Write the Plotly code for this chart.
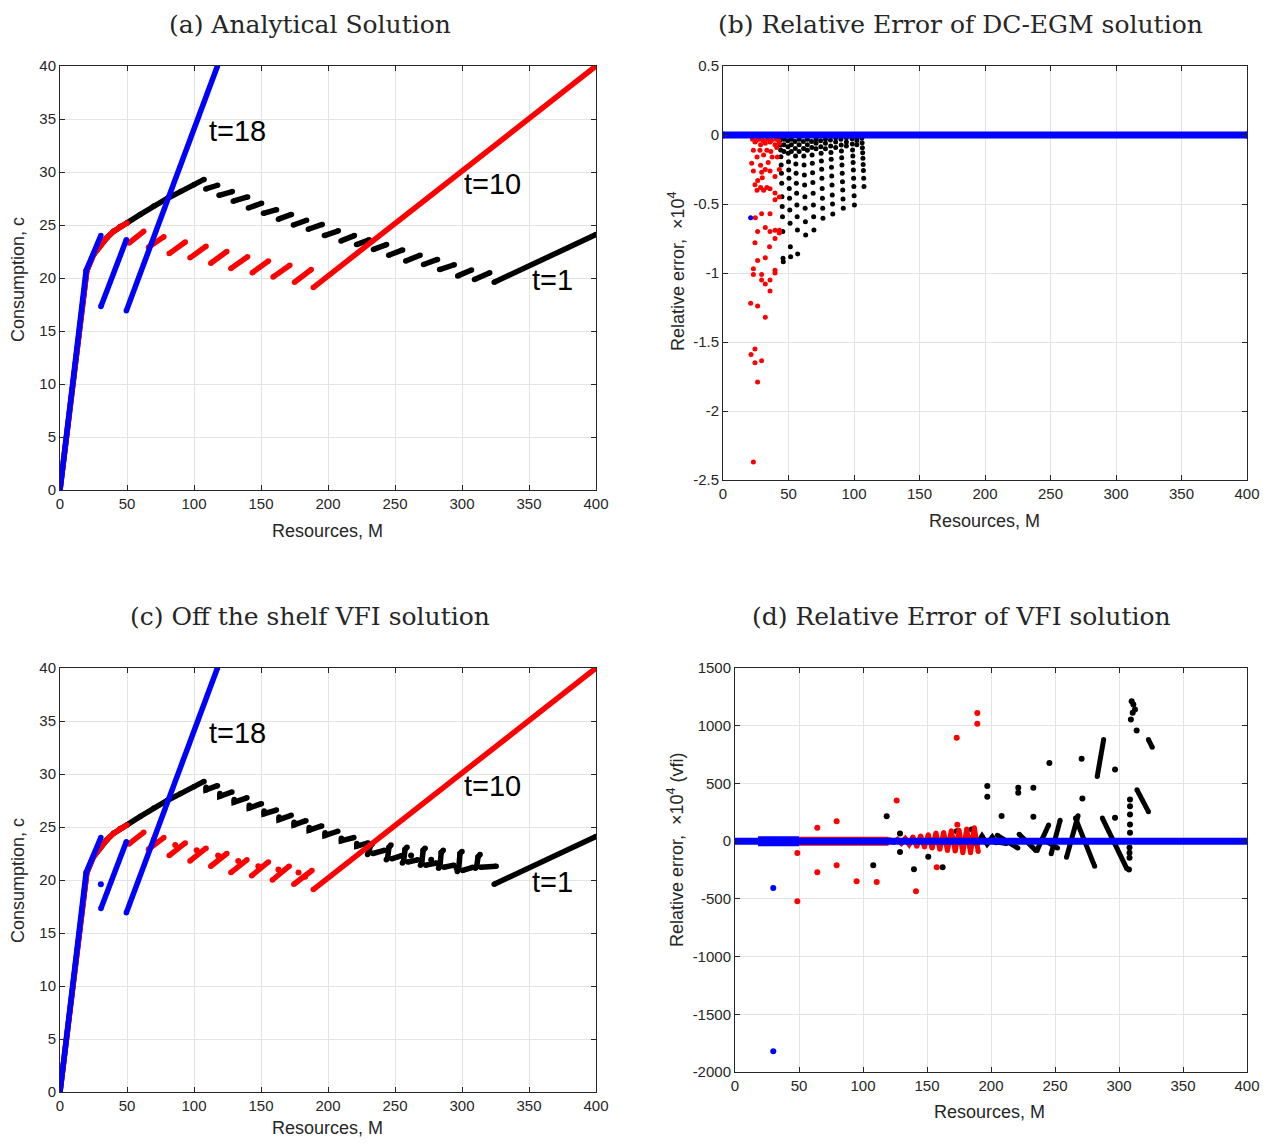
import plotly.graph_objects as go

# page body has an 8px margin: size the figure so the page does not overflow
FW, FH = 1261, 1132
OFF = 8

# ---------------- Panel (a) / (c) data : consumption functions ----------------
ramp_x = [0, 20]
ramp_y = [0, 20.7]
t1_curve_x = [20, 25, 30, 35, 40, 45, 50, 60, 70, 80, 90, 100, 107.5]
t1_curve_y = [20.7, 22.2, 23.1, 23.8, 24.4, 24.85, 25.2, 26.0, 26.8, 27.5, 28.15, 28.8, 29.3]
t10_curve_x = [20, 25, 30, 35, 40, 45, 50]
t10_curve_y = [20.7, 22.2, 23.1, 23.8, 24.4, 24.85, 25.2]

a_black_x0 = [108.8, 118.7, 129.3, 140.6, 151.8, 163.0, 174.2, 185.3, 197.3, 209.7, 221.3, 233.9, 245.3, 258.0, 271.3, 283.3, 296.8, 309.3]
a_black_x1 = [117.6, 128.6, 140.0, 150.4, 161.6, 172.7, 184.0, 195.7, 207.7, 219.7, 230.7, 243.7, 255.7, 268.7, 281.7, 294.2, 307.1, 320.7]
a_black_y0 = [28.40, 27.80, 27.25, 26.60, 26.10, 25.55, 25.00, 24.60, 24.00, 23.50, 23.15, 22.70, 22.15, 21.60, 21.27, 20.80, 20.20, 19.85]
a_black_y1 = [28.75, 28.15, 27.65, 27.05, 26.45, 26.00, 25.45, 25.05, 24.45, 24.00, 23.60, 23.15, 22.65, 22.15, 21.75, 21.25, 20.75, 20.50]

a_red_x0 = [51.5, 66.0, 81.5, 97.0, 112.5, 127.5, 143.5, 159.0, 175.0]
a_red_x1 = [62.5, 77.5, 93.5, 109.0, 124.5, 140.0, 155.5, 171.5, 187.5]
a_red_y0 = [23.3, 22.9, 22.3, 21.9, 21.4, 20.9, 20.5, 20.1, 19.6]
a_red_y1 = [24.4, 23.9, 23.4, 23.0, 22.5, 22.0, 21.6, 21.2, 20.8]

t1_line_x = [324, 400]
t1_line_y = [19.6, 24.1]
t10_line_x = [189, 400]
t10_line_y = [19.1, 40]
t18_seg_x = [[0, 19.5, 30.5], [30.5, 49.5], [49.5, 117.5]]
t18_seg_y = [[0, 20.7, 24.0], [17.3, 23.6], [16.9, 40]]

# VFI version (panel c): early dashes carry a small kink at their left end
c_black_x0 = [109.0, 119.3, 130.0, 141.3, 152.3, 163.5, 174.7, 186.0, 197.8, 210.0, 221.5]
c_black_x1 = [117.5, 128.3, 139.5, 150.3, 161.5, 172.5, 183.5, 195.3, 207.3, 219.3, 230.0]
c_black_ytop = [28.75, 28.15, 27.6, 27.05, 26.5, 25.95, 25.45, 24.95, 24.45, 23.95, 23.45]
c_black_y0 = [28.5, 27.9, 27.35, 26.8, 26.25, 25.7, 25.2, 24.7, 24.2, 23.7, 23.2]
c_black_y1 = [28.9, 28.3, 27.75, 27.2, 26.6, 26.1, 25.6, 25.1, 24.6, 24.0, 23.5]
# later pieces: an S-shaped jump followed by a short flat dash
c_black_late_x = [[233, 231.5, 230.5, 229.5], [233.5, 242],
                  [247, 245.5, 244.5, 243.5], [247.5, 255],
                  [259, 257.5, 256.5, 255.5], [259.5, 267],
                  [272.5, 271, 270, 269], [273, 281],
                  [286, 284.5, 283.5, 282.5], [286.5, 294],
                  [300, 298.5, 297.5, 296.5], [300.5, 308],
                  [313.5, 312, 311, 310], [314, 325.5]]
c_black_late_y = [[23.4, 23.2, 22.6, 22.4], [22.5, 22.8],
                  [23.3, 23.1, 22.1, 21.9], [22.0, 22.3],
                  [23.1, 22.9, 21.8, 21.6], [21.7, 21.9],
                  [23.0, 22.8, 21.6, 21.4], [21.4, 21.6],
                  [22.8, 22.6, 21.3, 21.1], [21.2, 21.4],
                  [22.7, 22.5, 21.0, 20.8], [20.9, 21.2],
                  [22.4, 22.2, 21.3, 21.1], [21.2, 21.3]]
c_black_dot_x = [262.0, 277.0, 296.0]
c_black_dot_y = [22.3, 21.9, 21.1]

c_red_x0 = [51.5, 66.0, 81.5, 97.0, 112.5, 127.5, 143.0, 158.5, 174.5]
c_red_x1 = [62.5, 77.5, 93.5, 109.0, 124.5, 139.5, 155.5, 171.0, 188.0]
c_red_y0 = [23.4, 22.9, 22.3, 21.8, 21.3, 20.7, 20.4, 20.0, 19.6]
c_red_y1 = [24.5, 24.0, 23.5, 23.0, 22.5, 21.9, 21.7, 21.3, 20.9]
c_red_dot_x = [70.0, 86.0, 102.0, 118.0, 133.0, 148.0, 163.0, 178.0, 183.0]
c_red_dot_y = [23.8, 23.3, 22.8, 22.3, 21.8, 21.3, 21.0, 20.7, 20.3]
c_blue_dot_x = [30.5]
c_blue_dot_y = [19.6]

# ---------------- Panel (b) data : DC-EGM relative errors (x 1e4) ----------------
egm_blue_line_x = [0, 400]
egm_blue_line_y = [0, 0]
egm_blue_dot_x = [21.1]
egm_blue_dot_y = [-0.60]

egm_red_x = [21.1, 23.2, 21.4, 24.4, 24.4, 26.4, 29.5, 26.4, 32.3, 23.2, 23.2, 24.4, 26.4, 29.5,
             29.5, 32.3, 32.3, 35.9, 35.9, 35.5, 39.7, 39.7, 24.7, 26.4, 29.5, 32.3, 35.9, 35.9,
             39.7, 39.7, 43.0, 43.0, 21.9, 23.2, 24.4, 26.0, 28.7, 31.0, 33.5, 35.9, 39.7, 39.7,
             43.0, 28.7, 29.5, 32.3, 34.5, 35.9, 39.7, 43.0, 23.2, 26.0, 28.2, 31.0, 33.5, 37.5,
             41.5, 24.4, 28.7, 32.3, 35.9, 39.7, 43.0, 22.5, 25.5, 27.5, 30.5, 34.0, 37.0, 40.5,
             42.5, 26.5, 30.0, 36.5, 41.0]
egm_red_y = [-1.22, -2.37, -1.59, -1.55, -1.65, -1.79, -1.635, -1.24, -1.32, -0.97, -1.01, -0.78, -0.91, -1.01,
             -1.05, -1.08, -0.89, -1.05, -1.13, -0.81, -1.00, -0.98, -0.60, -0.70, -0.57, -0.67, -0.70, -0.57,
             -0.69, -0.75, -0.69, -0.71, -0.205, -0.26, -0.36, -0.40, -0.38, -0.40, -0.38, -0.39, -0.42, -0.47,
             -0.45, -0.22, -0.27, -0.25, -0.20, -0.26, -0.30, -0.25, -0.11, -0.16, -0.11, -0.145, -0.11, -0.16,
             -0.16, -0.05, -0.07, -0.06, -0.05, -0.07, -0.06, -0.03, -0.04, -0.03, -0.04, -0.03, -0.04, -0.03,
             -0.04, -0.33, -0.31, -0.12, -0.09]

egm_black_col_x = [43.6, 49.4, 55.0, 61.3, 67.6, 74.5, 82.0, 90.0, 98.5, 106.0]
egm_black_col_y = [
    [-0.036, -0.072, -0.109, -0.157, -0.217, -0.278, -0.350, -0.447, -0.519, -0.592, -0.700, -0.894, -0.918],
    [-0.041, -0.085, -0.133, -0.193, -0.254, -0.314, -0.387, -0.459, -0.543, -0.640, -0.809, -0.882],
    [-0.048, -0.097, -0.152, -0.210, -0.278, -0.350, -0.423, -0.507, -0.592, -0.688, -0.862],
    [-0.048, -0.097, -0.152, -0.217, -0.290, -0.362, -0.447, -0.531, -0.628, -0.725],
    [-0.048, -0.091, -0.145, -0.205, -0.273, -0.345, -0.423, -0.507, -0.592, -0.688],
    [-0.041, -0.085, -0.133, -0.189, -0.249, -0.314, -0.387, -0.459, -0.531, -0.604],
    [-0.036, -0.080, -0.126, -0.176, -0.234, -0.297, -0.362, -0.435, -0.500, -0.573],
    [-0.031, -0.072, -0.116, -0.164, -0.217, -0.278, -0.338, -0.399, -0.464, -0.531],
    [-0.027, -0.065, -0.109, -0.152, -0.200, -0.254, -0.314, -0.374, -0.440, -0.507],
    [-0.022, -0.056, -0.092, -0.128, -0.169, -0.213, -0.258, -0.314, -0.374],
]
# slight rightward drift of each column's dots with depth (read from the fans)
egm_black_col_dx = [0.0, 0.2, 0.4, 0.6, 0.8, 1.0, 1.2, 1.4, 1.6, 1.8, 2.0, 2.2, 2.4]
egm_black_mid_x = [46.5, 52.2, 58.1, 64.4, 71.0, 78.2, 86.0, 94.2, 102.2]
egm_black_mid_y = [
    [-0.03, -0.07, -0.12],
    [-0.03, -0.07, -0.12],
    [-0.03, -0.07, -0.12],
    [-0.03, -0.07, -0.11],
    [-0.03, -0.06, -0.10],
    [-0.03, -0.06, -0.10],
    [-0.02, -0.05, -0.09],
    [-0.02, -0.05, -0.08],
    [-0.02, -0.04, -0.07],
]

# ---------------- Panel (d) data : VFI relative errors (x 1e4) ----------------
vfi_blue_line_x = [0, 400]
vfi_blue_line_y = [0, 0]
vfi_blue_band_x = [18, 50]
vfi_blue_band_y = [0, 0]
vfi_blue_dot_x = [29.9, 29.9]
vfi_blue_dot_y = [-405, -1820]

vfi_red_band_x = [50, 120]
vfi_red_band_y = [0, 0]
vfi_red_dot_x = [48.7, 48.7, 64.3, 64.3, 79.4, 79.4, 95.0, 110.7, 126.3, 141.4, 157.6, 173.2, 173.7, 189.3, 189.3]
vfi_red_dot_y = [-102, -520, 115, -269, 173, -208, -347, -353, 352, -434, -226, 895, 141, 1111, 1016]
vfi_red_wave_x = [115, 118, 121, 124, 127, 130, 133, 136, 139, 142, 145, 148, 151, 154, 157, 160, 163,
                  166, 169, 172, 175, 178, 181, 184, 187, 190]
vfi_red_wave_y = [5, -5, 10, -10, 15, -18, 22, -28, 35, -45, 45, -50, 55, -60, 70, -70, 75, -80, 90,
                  -85, 95, -100, 105, -100, 115, -90]

vfi_black_dot_x = [118.5, 108.0, 128.9, 128.9, 139.8, 151.0, 162.2, 173.2, 184.9, 197.1, 197.1, 208.3,
                   221.3, 221.3, 233.1, 233.1, 245.6, 270.8, 271.4, 296.9, 296.9, 309.3, 313.8, 307.8,
                   308.6, 308.6, 308.6, 308.6, 308.6, 308.2, 308.2, 308.2, 309.9, 311.2, 312.5, 310.7]
vfi_black_dot_y = [216, -208, 66, -93, -243, -136, -226, 86, 101, 477, 384, 217,
                   462, 419, 462, 211, 676, 713, 370, 621, 202, 1054, 959, -245,
                   361, 303, 231, 145, 72, -56, -100, -143, 1213, 1184, 1141, 1112]
vfi_black_strokes_x = [[184, 189, 193, 197, 201, 204], [205, 221], [222, 235], [236, 245], [247, 254],
                       [259, 268], [266, 281], [287, 306], [314, 323], [323, 326], [283, 288],
                       [240, 252], [194, 212]]
vfi_black_strokes_y = [[30, -30, 45, -25, 35, -15], [50, -60], [60, -80], [-80, 140], [-110, 180],
                       [-140, 220], [200, -218], [200, -236], [445, 255], [880, 813], [560, 880],
                       [20, -60], [10, -20]]

# ---------------- helpers ----------------
def segs(x0s, y0s, x1s, y1s):
    xs, ys = [], []
    for a, b, c, d in zip(x0s, y0s, x1s, y1s):
        xs += [a, c, None]
        ys += [b, d, None]
    return xs, ys


def polys(lx, ly):
    xs, ys = [], []
    for px, py in zip(lx, ly):
        xs += list(px) + [None]
        ys += list(py) + [None]
    return xs, ys


def hooks(x0s, ytops, y0s, x1s, y1s):
    xs, ys = [], []
    for a, t, b, c, d in zip(x0s, ytops, y0s, x1s, y1s):
        xs += [a, a, c, None]
        ys += [t, b, d, None]
    return xs, ys


def line(x, y, color, width, ax, caps=True):
    # markers of the line's width at the vertices give round caps/joins like the original
    return go.Scatter(x=x, y=y, mode="lines+markers" if caps else "lines",
                      line=dict(color=color, width=width),
                      marker=dict(color=color, size=width, line=dict(width=0)),
                      xaxis="x" + ax, yaxis="y" + ax, hoverinfo="skip", showlegend=False,
                      connectgaps=False, cliponaxis=True)


def dots(x, y, color, size, ax):
    return go.Scatter(x=x, y=y, mode="markers", marker=dict(color=color, size=size, line=dict(width=0)),
                      xaxis="x" + ax, yaxis="y" + ax, hoverinfo="skip", showlegend=False)


BLACK, RED, BLUE = "#000000", "#ff0000", "#0000ff"
LW = 5.5
traces = []

# ---- panels (a) and (c) ----
bx, by = segs(a_black_x0, a_black_y0, a_black_x1, a_black_y1)
rx, ry = segs(a_red_x0, a_red_y0, a_red_x1, a_red_y1)
cbx, cby = hooks(c_black_x0, c_black_ytop, c_black_y0, c_black_x1, c_black_y1)
clx, cly = polys(c_black_late_x, c_black_late_y)
crx, cry = segs(c_red_x0, c_red_y0, c_red_x1, c_red_y1)
tbx, tby = polys(t18_seg_x, t18_seg_y)

for ax in ["", "3"]:
    traces.append(line(ramp_x + t1_curve_x[1:], ramp_y + t1_curve_y[1:], BLACK, LW, ax))
    traces.append(line(t1_line_x, t1_line_y, BLACK, LW, ax))
    if ax == "":
        traces.append(line(bx, by, BLACK, LW, ax))
    else:
        traces.append(line(cbx + clx, cby + cly, BLACK, LW, ax))
        traces.append(dots(c_black_dot_x, c_black_dot_y, BLACK, 6, ax))
    traces.append(line(ramp_x + t10_curve_x[1:], ramp_y + t10_curve_y[1:], RED, LW, ax))
    traces.append(line(t10_line_x, t10_line_y, RED, LW, ax))
    if ax == "":
        traces.append(line(rx, ry, RED, LW, ax))
    else:
        traces.append(line(crx, cry, RED, LW, ax))
        traces.append(dots(c_red_dot_x, c_red_dot_y, RED, 6, ax))
    traces.append(line(tbx, tby, BLUE, LW, ax))
traces.append(dots(c_blue_dot_x, c_blue_dot_y, BLUE, 6, "3"))

# ---- panel (b) ----
ebx, eby = [], []
for cx, cys in zip(egm_black_col_x, egm_black_col_y):
    ebx += [cx + d for d in egm_black_col_dx[:len(cys)]]
    eby += cys
for cx, cys in zip(egm_black_mid_x, egm_black_mid_y):
    ebx += [cx] * len(cys)
    eby += cys
traces.append(dots(ebx, eby, BLACK, 5, "2"))
traces.append(dots(egm_red_x, egm_red_y, RED, 5, "2"))
traces.append(line(egm_blue_line_x, egm_blue_line_y, BLUE, 7, "2"))
traces.append(dots(egm_blue_dot_x, egm_blue_dot_y, BLUE, 5, "2"))

# ---- panel (d) ----
vsx, vsy = polys(vfi_black_strokes_x, vfi_black_strokes_y)
traces.append(line(vsx, vsy, BLACK, 5, "4"))
traces.append(dots(vfi_black_dot_x, vfi_black_dot_y, BLACK, 6, "4"))
traces.append(line(vfi_red_band_x, vfi_red_band_y, RED, 9, "4", caps=False))
traces.append(line(vfi_red_wave_x, vfi_red_wave_y, RED, 5, "4"))
traces.append(dots(vfi_red_dot_x, vfi_red_dot_y, RED, 6, "4"))
traces.append(line(vfi_blue_band_x, vfi_blue_band_y, BLUE, 10, "4", caps=False))
traces.append(line(vfi_blue_line_x, vfi_blue_line_y, BLUE, 7, "4", caps=False))
traces.append(dots(vfi_blue_dot_x, vfi_blue_dot_y, BLUE, 6, "4"))

fig = go.Figure(traces)

AXC = "#262626"
GRID = "#e3e3e3"
TICKFONT = dict(family="Liberation Sans, Arial, sans-serif", size=15, color=AXC)


def px_x(p):
    return (p - OFF) / FW


def px_y(p):
    return 1 - (p - OFF) / FH


def axis(domain, rng, dtick=None, tickvals=None, ticktext=None, anchor=None):
    d = dict(domain=domain, range=rng, showgrid=True, gridcolor=GRID, gridwidth=1,
             zeroline=False, showline=True, linecolor=AXC, linewidth=1, mirror="ticks",
             ticks="inside", ticklen=5, tickcolor=AXC, tickfont=TICKFONT, anchor=anchor,
             fixedrange=True, automargin=False)
    if tickvals is not None:
        d.update(tickmode="array", tickvals=tickvals, ticktext=ticktext)
    else:
        d.update(tickmode="linear", tick0=0, dtick=dtick)
    return d


xa = [px_x(60), px_x(596)]
xb = [px_x(723), px_x(1247)]
xd = [px_x(735), px_x(1247)]
ya = [px_y(490), px_y(66)]
yb = [px_y(480), px_y(66)]
yc = [px_y(1092), px_y(668)]
yd = [px_y(1072), px_y(668)]

b_ticks = [0.5, 0, -0.5, -1, -1.5, -2, -2.5]
b_text = ["0.5", "0", "-0.5", "-1", "-1.5", "-2", "-2.5"]
d_ticks = [1500, 1000, 500, 0, -500, -1000, -1500, -2000]
d_text = ["1500", "1000", "500", "0", "-500", "-1000", "-1500", "-2000"]

fig.update_layout(
    width=FW, height=FH, autosize=False, margin=dict(l=0, r=0, t=0, b=0, pad=0),
    paper_bgcolor="white", plot_bgcolor="white", showlegend=False,
    xaxis=axis(xa, [0, 400], dtick=50, anchor="y"),
    yaxis=axis(ya, [0, 40], dtick=5, anchor="x"),
    xaxis2=axis(xb, [0, 400], dtick=50, anchor="y2"),
    yaxis2=axis(yb, [-2.5, 0.5], tickvals=b_ticks, ticktext=b_text, anchor="x2"),
    xaxis3=axis(xa, [0, 400], dtick=50, anchor="y3"),
    yaxis3=axis(yc, [0, 40], dtick=5, anchor="x3"),
    xaxis4=axis(xd, [0, 400], dtick=50, anchor="y4"),
    yaxis4=axis(yd, [-2000, 1500], tickvals=d_ticks, ticktext=d_text, anchor="x4"),
)

TITLEFONT = dict(family="DejaVu Serif, Liberation Serif, serif", size=25, color="#262626")
LABFONT = dict(family="Liberation Sans, Arial, sans-serif", size=18, color=AXC)
TFONT = dict(family="Liberation Sans, Arial, sans-serif", size=29, color="#000000")

ann = []


def paper_text(text, px, py, font, angle=0, yanchor="middle"):
    ann.append(dict(text=text, x=px_x(px), y=px_y(py), xref="paper", yref="paper",
                    showarrow=False, font=font, textangle=angle, xanchor="center", yanchor=yanchor))


# top titles hang from the top edge of the figure
paper_text("(a) Analytical Solution", 310, OFF, TITLEFONT, yanchor="top")
paper_text("(b) Relative Error of DC-EGM solution", 960, OFF, TITLEFONT, yanchor="top")
paper_text("(c) Off the shelf VFI solution", 310, 616, TITLEFONT)
paper_text("(d) Relative Error of VFI solution", 961, 616, TITLEFONT)

paper_text("Consumption, c", 18, 280, LABFONT, -90)
paper_text("Consumption, c", 18, 881, LABFONT, -90)
paper_text("Resources, M", 327, 531, LABFONT)
paper_text("Resources, M", 327, OFF + FH, LABFONT, yanchor="bottom")
paper_text("Resources, M", 984, 521, LABFONT)
paper_text("Resources, M", 989, 1112, LABFONT)
paper_text("Relative error,  ×10<sup>4</sup>", 676, 271, LABFONT, -90)
paper_text("Relative error,  ×10<sup>4</sup> (vfi)", 675, 850, LABFONT, -90)

for ax in ["", "3"]:
    for txt, x, y in [("t=18", 109.7, 33.9), ("t=10", 300.0, 28.9), ("t=1", 350.7, 19.8)]:
        ann.append(dict(text=txt, x=x, y=y, xref="x" + ax, yref="y" + ax, showarrow=False,
                        font=TFONT, xanchor="left", yanchor="middle"))

fig.update_layout(annotations=ann)
fig.write_html("out.html")
